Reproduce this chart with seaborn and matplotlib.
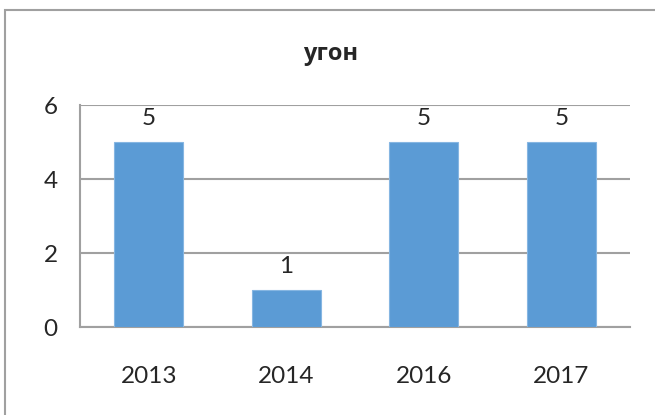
import matplotlib
matplotlib.use("Agg")
import matplotlib.pyplot as plt
import seaborn as sns
import pandas as pd
from matplotlib.patches import Rectangle

years = ["2013", "2014", "2016", "2017"]
values = [5, 1, 5, 5]
title = "угон"
yticks = [0, 2, 4, 6]

sns.set_style("white")
plt.rcParams['font.family'] = ['Lato', 'Open Sans', 'DejaVu Sans']

df = pd.DataFrame({"year": years, "value": values})

fig = plt.figure(figsize=(6.55, 4.15), dpi=100)
ax = fig.add_axes([80/655, 1-327/415, 550/655, 222/415])

sns.barplot(data=df, x="year", y="value", color="#5B9BD5", saturation=1,
            width=0.5, ax=ax, zorder=3, edgecolor="#86B6E2", linewidth=0.8)

FS = 17.5
ax.set_ylim(0, 6)
ax.set_xlim(-0.5, len(years) - 0.5)
ax.set_yticks(yticks)
ax.set_yticklabels([str(t) for t in yticks], fontsize=FS)
ax.set_xlabel("")
ax.set_ylabel("")
ax.yaxis.grid(True, color="#A0A0A0", linewidth=1.5, zorder=0)
ax.set_axisbelow(True)

# x ticks at category boundaries
ax.set_xticks(range(len(years)))
ax.set_xticklabels(years, fontsize=FS)
ax.tick_params(axis="x", which="major", length=0, pad=28)
ax.set_xticks([i - 0.5 for i in range(len(years) + 1)], minor=True)
ax.tick_params(axis="x", which="minor", length=8, width=1.5, color="#A0A0A0", direction="out")
ax.tick_params(axis="y", length=9, width=1.5, color="#A0A0A0", direction="out", pad=7)

for s in ["top", "right"]:
    ax.spines[s].set_visible(False)
for s in ["left", "bottom"]:
    ax.spines[s].set_color("#A0A0A0")
    ax.spines[s].set_linewidth(1.5)

for i, v in enumerate(values):
    ax.annotate(str(v), (i, v), xytext=(0, 12.5), textcoords="offset points",
                ha="center", va="baseline", fontsize=FS)

fig.text(0.505, 1 - 60/415, title, ha="center", va="baseline", fontsize=17,
         fontweight="bold", family=['Open Sans', 'DejaVu Sans'])

fig.patches.append(Rectangle((5/655, -0.1), 1.2, 1 - 10/415 + 0.1, transform=fig.transFigure,
                             fill=False, edgecolor="#A0A0A0", linewidth=1.5))

fig.savefig("out.png", dpi=100)
